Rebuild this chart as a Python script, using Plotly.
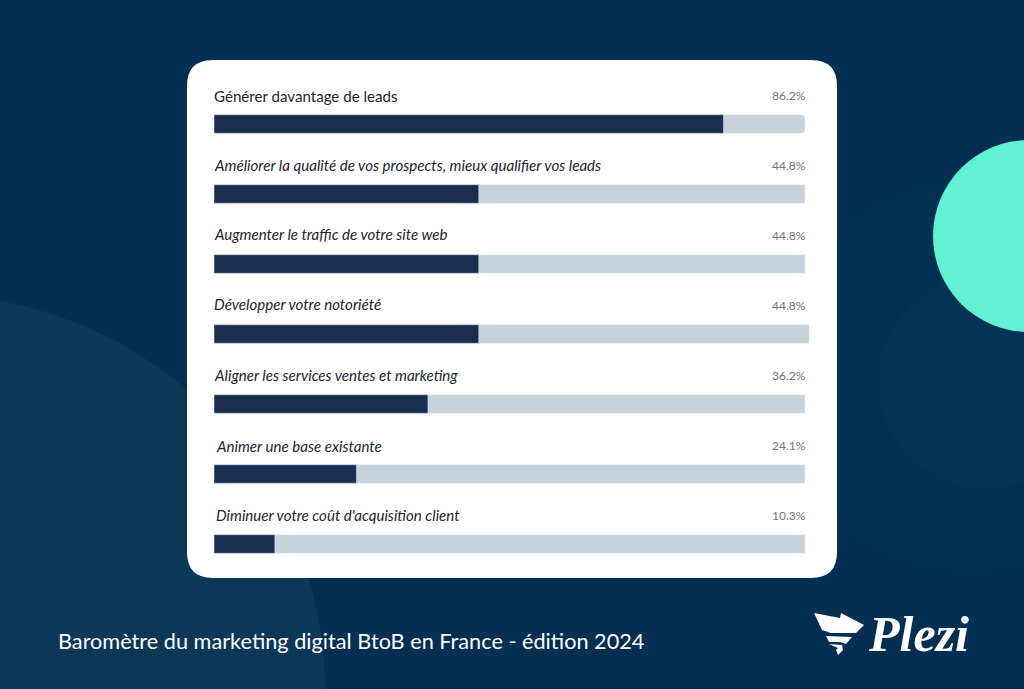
import plotly.graph_objects as go

W = 1024
H = 689

labels = [
    "Générer davantage de leads",
    "Améliorer la qualité de vos prospects, mieux qualifier vos leads",
    "Augmenter le traffic de votre site web",
    "Développer votre notoriété",
    "Aligner les services ventes et marketing",
    "Animer une base existante",
    "Diminuer votre coût d'acquisition client",
]
values = [86.2, 44.8, 44.8, 44.8, 36.2, 24.1, 10.3]
value_labels = ["86.2%", "44.8%", "44.8%", "44.8%", "36.2%", "24.1%", "10.3%"]
track_first = [100]
track_rest = [100, 100, 100.7, 100, 100, 100]
# captions are not quite evenly placed in the picture
label_nudge = [-2, -2, -2, -2, -2, 0, 0]
label_lift = [28, 29, 30, 30, 29, 28, 29]

BG = "#022f52"
NAVY = "#1a2e50"
TRACK = "#c8d2db"
MINT = "#60f2d3"
LIGHT = "#0c3858"
SOFT1 = "#023154"
SOFT2 = "#033355"


# pixel helpers, margins are 0 so paper coords map straight to the window
def px_x(v):
    return v / W


def px_y(v):
    return 1 - v / H


def rounded_rect(x0, y0, x1, y1, r):
    return (
        f"M {px_x(x0 + r)} {px_y(y0)} L {px_x(x1 - r)} {px_y(y0)} "
        f"Q {px_x(x1)} {px_y(y0)} {px_x(x1)} {px_y(y0 + r)} "
        f"L {px_x(x1)} {px_y(y1 - r)} Q {px_x(x1)} {px_y(y1)} {px_x(x1 - r)} {px_y(y1)} "
        f"L {px_x(x0 + r)} {px_y(y1)} Q {px_x(x0)} {px_y(y1)} {px_x(x0)} {px_y(y1 - r)} "
        f"L {px_x(x0)} {px_y(y0 + r)} Q {px_x(x0)} {px_y(y0)} {px_x(x0 + r)} {px_y(y0)} Z"
    )


def circle(cx, cy, r, color):
    return dict(type="circle", xref="paper", yref="paper", layer="below",
                x0=px_x(cx - r), x1=px_x(cx + r), y0=px_y(cy + r), y1=px_y(cy - r),
                fillcolor=color, line_width=0)


def poly(points):
    coords = [f"{px_x(x)} {px_y(y)}" for x, y in points]
    return dict(type="path", xref="paper", yref="paper", layer="above",
                path="M " + " L ".join(coords) + " Z", fillcolor="white", line_width=0)


fig = go.Figure()
fig.add_bar(y=labels[:1], x=track_first, orientation="h", marker_color=TRACK,
            marker_cornerradius=4, hoverinfo="skip")
fig.add_bar(y=labels[1:], x=track_rest, orientation="h", marker_color=TRACK, hoverinfo="skip")
fig.add_bar(y=labels, x=values, orientation="h", marker_color=NAVY)

shapes = [
    circle(972, 377, 195, SOFT1),
    circle(985, 382, 107, SOFT2),
    circle(-69, 689, 394, LIGHT),
    circle(1029, 236, 96, MINT),
    dict(type="path", xref="paper", yref="paper", layer="below",
         path=rounded_rect(187, 60, 837, 578, 26), fillcolor="white", line_width=0),
    # logo wing
    poly([(814, 613), (840, 618), (841, 613), (864, 625), (856, 633), (831, 633), (822, 630)]),
    poly([(826, 636), (852, 637), (846, 644), (840, 642), (829, 642)]),
    poly([(829, 644), (842, 645), (843, 650), (838, 655), (836, 650), (838, 648)]),
]

annotations = []
for i, (lab, val) in enumerate(zip(labels, value_labels)):
    annotations.append(dict(
        x=0, y=lab, xref="x", yref="y", xanchor="left", yanchor="middle",
        xshift=label_nudge[i], yshift=label_lift[i], showarrow=False,
        text=lab if i == 0 else f"<i>{lab}</i>",
        font=dict(family="Lato", size=15.1, color="#22262e"),
    ))
    annotations.append(dict(
        x=100, y=lab, xref="x", yref="y", xanchor="right", yanchor="middle",
        xshift=3, yshift=29, showarrow=False, text=val,
        font=dict(family="Lato", size=12, color="#6f747c"),
    ))
annotations.append(dict(
    x=px_x(56), y=px_y(641), xref="paper", yref="paper", xanchor="left", yanchor="middle",
    showarrow=False, text="Baromètre du marketing digital BtoB en France - édition 2024",
    font=dict(family="Lato", size=21.7, color="white"),
))
annotations.append(dict(
    x=px_x(866), y=px_y(634), xref="paper", yref="paper", xanchor="left", yanchor="middle",
    showarrow=False, text="<b><i>Plezi</i></b>",
    font=dict(family="Liberation Serif", size=50, color="white"),
))

fig.update_layout(
    width=W, height=H, margin=dict(l=0, r=0, t=0, b=0),
    paper_bgcolor=BG, plot_bgcolor="rgba(0,0,0,0)",
    barmode="overlay", bargap=0.735, showlegend=False,
    shapes=shapes, annotations=annotations,
    # axis runs to 101 so the one longer track is not cut at 100
    xaxis=dict(domain=[214 / W, (214 + 5.91 * 101) / W], range=[0, 101], visible=False),
    yaxis=dict(domain=[1 - 579 / H, 1 - 89 / H], categoryorder="array", categoryarray=labels,
               range=[6.5, -0.5], visible=False),
)

fig.write_html("out.html", config={"displayModeBar": False},
               post_script="document.body.style.margin='0';")
